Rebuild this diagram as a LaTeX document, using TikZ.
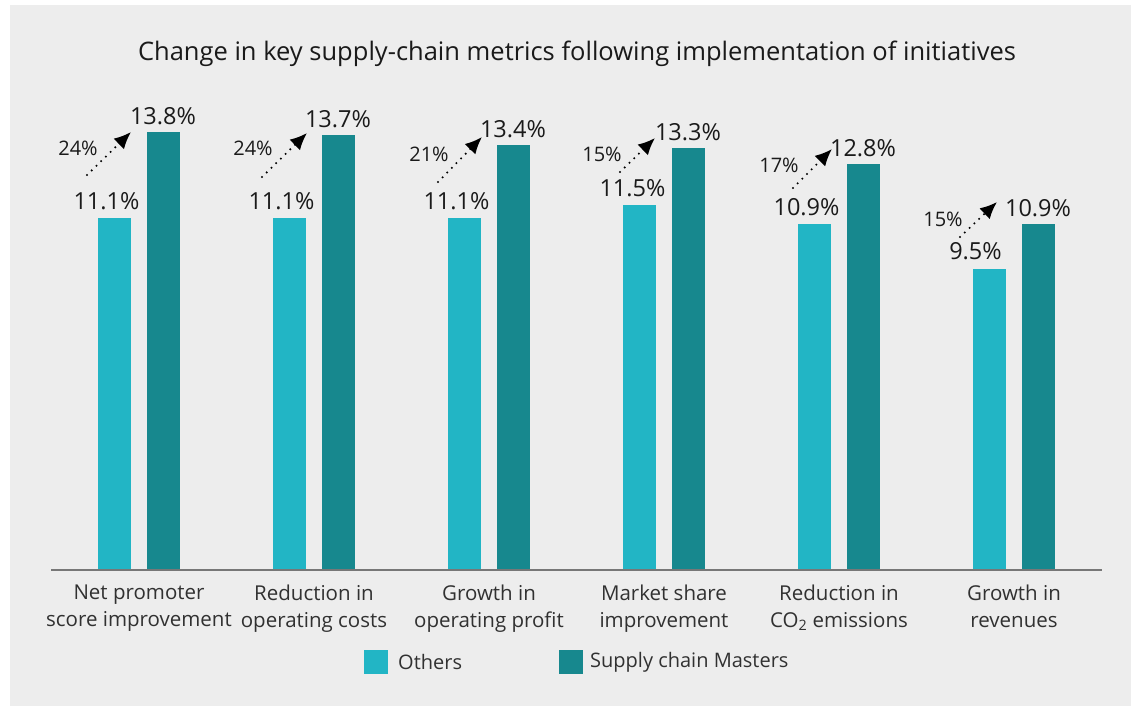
\documentclass[tikz,border=0pt]{standalone}
\usepackage{fontspec}
\setmainfont{Open Sans}
\usetikzlibrary{arrows.meta}
\definecolor{others}{HTML}{22B5C5}
\definecolor{masters}{HTML}{17888E}
\definecolor{panel}{HTML}{EDEDED}
\definecolor{axisgray}{HTML}{777777}
\definecolor{ink}{HTML}{1A1A1A}

\begin{document}
\begin{tikzpicture}[x=1pt, y=-1pt, every node/.style={inner sep=0pt, text=ink},
  value/.style={font=\fontsize{23.5}{26}\selectfont},
  catlabel/.style={align=center, anchor=north, font=\fontsize{20.5}{26.5}\selectfont, text=ink!90},
  legendtext/.style={anchor=west, font=\fontsize{20}{24}\selectfont, text=ink!90},
  growth/.style={line width=2.3pt, dash pattern=on 0pt off 6.6pt, line cap=round, -{Latex[length=17pt,width=15pt]}}]
% Draw background
\fill[panel] (10,5) rectangle (1131,706);
\useasboundingbox (0,0) rectangle (1131,706);
% Draw title
\node[font=\fontsize{25.5}{28}\selectfont] (title) at (577,54) {Change in key supply-chain metrics following implementation of initiatives};
% Draw bars
\foreach \n/\x/\o/\m/\dx in {1/98/11.1/13.8/-8, 2/273/11.1/13.7/-8, 3/448/11.1/13.4/-8, 4/623/11.5/13.3/-7, 5/798/10.9/12.8/-8, 6/973/9.5/10.9/-14} {
  \fill[others] (\x,570) rectangle ({\x+33},{570-31.73*\o});
  \fill[masters] ({\x+49},570) rectangle ({\x+82},{570-31.73*\m});
  \node[value] (o\n) at ({\x+16.5+\dx},{570-31.73*\o-17}) {\o\%};
  \node[value] (m\n) at ({\x+65},{570-31.73*\m-16}) {\m\%};
}
% Draw growth arrows
\foreach \n/\sx/\sy/\tx/\ty/\gx/\gy/\g in {1/87/175/131/132/78/148/24, 2/262/177/307/133/253/148/24, 3/438/182/482/137/429/154/21, 4/620/172/655/138/602/154/15, 5/793/188/832/149/779/165/17, 6/960/237/997/202/943/219/15} {
  \coordinate (s\n) at (\sx,\sy);
  \coordinate (t\n) at (\tx,\ty);
  \draw[growth] (s\n) -- (t\n);
  \node[font=\fontsize{20}{22}\selectfont] (g\n) at (\gx,\gy) {\g\%};
}
% Draw axis
\coordinate (axl) at (51,570);
\coordinate (axr) at (1102,570);
\draw[axisgray, line width=2.5pt] (axl) -- (axr);
% Draw labels
\node[catlabel] (c1) at (139,585) {Net promoter\\score improvement};
\node[catlabel] (c2) at (314,585) {Reduction in\\operating costs};
\node[catlabel] (c3) at (489,585) {Growth in\\operating profit};
\node[catlabel] (c4) at (664,585) {Market share\\improvement};
\node[catlabel] (c5) at (839,585) {Reduction in\\CO\textsubscript{2} emissions};
\node[catlabel] (c6) at (1014,585) {Growth in\\revenues};
% Draw legend
\fill[others] (364,650) rectangle (388,674);
\node[legendtext] (lo) at (398,662) {Others};
\fill[masters] (559,650) rectangle (583,674);
\node[legendtext] (lm) at (590,662) {Supply chain Masters};
\end{tikzpicture}
\end{document}
